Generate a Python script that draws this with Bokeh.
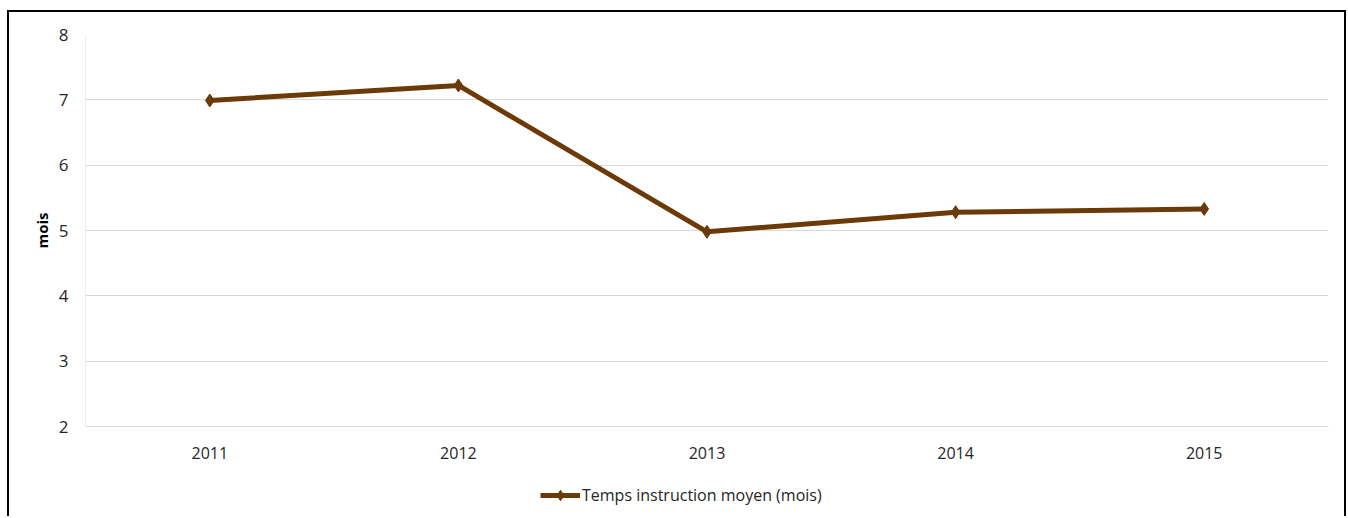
from bokeh.plotting import figure
from bokeh.models import (FactorRange, Range1d, Legend, LegendItem, FixedTicker,
                          Title, ColumnDataSource)
from bokeh.embed import file_html
from bokeh.resources import INLINE

years = ["2011", "2012", "2013", "2014", "2015"]
temps_moyen = [6.99, 7.22, 4.98, 5.28, 5.33]
y_ticks = [2, 3, 4, 5, 6, 7, 8]
series_name = "Temps instruction moyen (mois)"
y_label = "mois"

COLOR = "#6B3A06"
FONT = "Open Sans"
GRID = "#d9d9d9"

# plot area spans 2..8 (392 px); frame extended below so legend fits inside
px_per_unit = 392 / 6
y_start = y_ticks[0] - 90 / px_per_unit

p = figure(width=1339, height=506, output_backend="svg", toolbar_location=None,
           x_range=FactorRange(factors=years, range_padding=0),
           y_range=Range1d(y_start, y_ticks[-1]),
           min_border_left=76, min_border_right=20, min_border_top=22, min_border_bottom=2)
p.styles = {"border-top": "2px solid #000", "border-left": "2px solid #000",
            "border-right": "2px solid #000", "box-sizing": "border-box",
            "margin-top": "10px", "margin-left": "7px"}
p.outline_line_color = None
p.background_fill_color = "white"
p.border_fill_color = "white"

# left border of plot area
edge = ColumnDataSource(dict(x0=[(years[0], -0.5)], x1=[(years[0], -0.5)],
                             y0=[y_ticks[0]], y1=[y_ticks[-1]]))
p.segment(x0="x0", y0="y0", x1="x1", y1="y1", source=edge, line_color=GRID, line_width=1)

r_line = p.line(years, temps_moyen, line_color=COLOR, line_width=5)
r_mark = p.scatter(years, temps_moyen, marker="diamond", size=13, fill_color=COLOR, line_color=COLOR)

ticker = FixedTicker(ticks=y_ticks)
p.xgrid.grid_line_color = None
p.ygrid.ticker = ticker
p.ygrid.grid_line_color = GRID
p.ygrid.grid_line_width = 1

p.yaxis.ticker = ticker
p.yaxis.axis_line_color = None
p.yaxis.major_tick_line_color = None
p.yaxis.minor_tick_line_color = None
p.yaxis.major_label_text_font = FONT
p.yaxis.major_label_text_font_size = "17px"
p.yaxis.major_label_text_color = "#262626"
p.yaxis.major_label_standoff = 11

title = Title(text=y_label, align="left", offset=268, standoff=7,
              text_font=FONT, text_font_style="bold", text_font_size="15px",
              text_color="#000000")
p.add_layout(title, "left")

p.xaxis.fixed_location = y_ticks[0]
p.xaxis.axis_line_color = GRID
p.xaxis.major_tick_line_color = None
p.xaxis.minor_tick_line_color = None
p.xaxis.major_label_text_font = FONT
p.xaxis.major_label_text_font_size = "16px"
p.xaxis.major_label_text_color = "#262626"
p.xaxis.major_label_standoff = 14

legend = Legend(items=[LegendItem(label=series_name, renderers=[r_line, r_mark])],
                location=(455, 8), orientation="horizontal",
                label_text_font=FONT, label_text_font_size="16px",
                label_text_color="#262626", border_line_color=None,
                background_fill_alpha=0, glyph_width=40, glyph_height=26,
                label_standoff=2, padding=0, margin=0)
p.add_layout(legend, "center")

open("out.html", "w").write(file_html(p, INLINE))
